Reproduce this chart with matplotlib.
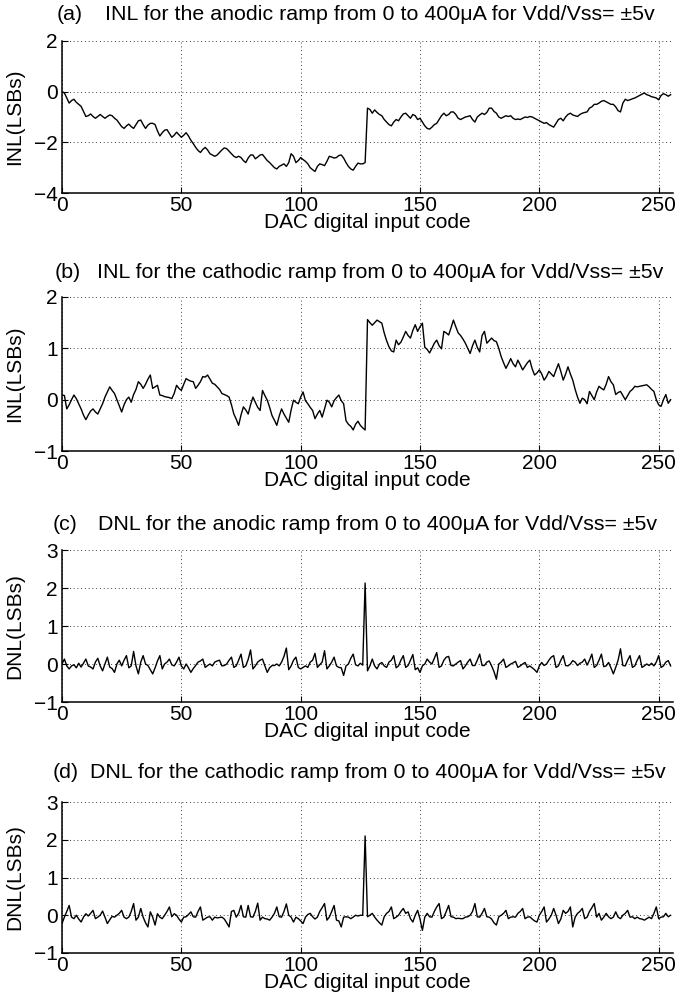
import numpy as np
import matplotlib
matplotlib.use("Agg")
import matplotlib.pyplot as plt

plt.rcParams['font.family'] = ['Liberation Sans', 'DejaVu Sans']

codes = np.arange(256)

# (a) INL, anodic ramp
inl_anodic = [
    0.0, -0.05, -0.25, -0.45, -0.35, -0.3, -0.42, -0.5, -0.58, -0.78, -0.98, -0.95, -0.88, -0.98, -1.05, -0.98,
    -0.9, -0.98, -1.05, -0.98, -0.92, -0.95, -1.05, -1.12, -1.25, -1.38, -1.45, -1.35, -1.28, -1.38, -1.45, -1.3,
    -1.15, -1.12, -1.3, -1.45, -1.32, -1.25, -1.25, -1.3, -1.55, -1.75, -1.62, -1.52, -1.5, -1.65, -1.8, -1.72,
    -1.6, -1.7, -1.8, -1.72, -1.62, -1.75, -1.92, -2.05, -2.2, -2.32, -2.4, -2.28, -2.2, -2.3, -2.45, -2.5,
    -2.55, -2.5, -2.4, -2.3, -2.22, -2.25, -2.35, -2.45, -2.55, -2.6, -2.55, -2.6, -2.72, -2.8, -2.62, -2.5,
    -2.5, -2.65, -2.58, -2.5, -2.48, -2.6, -2.72, -2.8, -2.9, -3.0, -3.05, -2.95, -2.9, -2.85, -2.95, -2.8,
    -2.45, -2.55, -2.8, -2.72, -2.6, -2.68, -2.75, -2.85, -3.0, -3.08, -3.15, -2.95, -2.85, -2.88, -2.92, -2.75,
    -2.55, -2.58, -2.62, -2.6, -2.52, -2.5, -2.62, -2.8, -2.95, -3.05, -3.1, -2.95, -2.82, -2.85, -2.85, -2.8,
    -0.65, -0.7, -0.85, -0.72, -0.82, -0.9, -0.95, -1.1, -1.2, -1.3, -1.35, -1.2, -1.1, -1.15, -1.0, -0.88,
    -0.85, -0.95, -1.05, -0.9, -0.95, -1.1, -1.05, -1.2, -1.35, -1.45, -1.48, -1.4, -1.3, -1.25, -1.1, -0.95,
    -0.85, -0.95, -0.9, -0.8, -0.8, -0.9, -1.05, -1.1, -1.05, -1.0, -0.98, -0.95, -1.1, -1.2, -1.0, -0.92,
    -0.85, -0.9, -0.82, -0.65, -0.65, -0.78, -0.85, -1.0, -1.05, -1.0, -0.95, -0.98, -0.95, -1.05, -1.1, -1.08,
    -1.1, -1.05, -1.0, -1.02, -0.98, -1.0, -1.05, -1.1, -1.15, -1.2, -1.25, -1.22, -1.3, -1.35, -1.4, -1.25,
    -1.1, -1.05, -1.15, -1.0, -0.9, -0.85, -0.92, -0.95, -0.98, -0.9, -0.85, -0.82, -0.8, -0.65, -0.6, -0.5,
    -0.5, -0.45, -0.38, -0.35, -0.4, -0.45, -0.5, -0.5, -0.6, -0.75, -0.8, -0.45, -0.3, -0.35, -0.32, -0.28,
    -0.25, -0.2, -0.15, -0.1, -0.05, -0.12, -0.15, -0.2, -0.22, -0.25, -0.32, -0.15, -0.08, -0.12, -0.18, -0.12,
]

# (b) INL, cathodic ramp
inl_cathodic = [
    0.09, 0.08, -0.18, -0.1, 0.0, 0.09, 0.02, -0.08, -0.18, -0.3, -0.39, -0.3, -0.22, -0.18, -0.24, -0.28,
    -0.18, -0.08, 0.05, 0.15, 0.25, 0.18, 0.12, 0.0, -0.12, -0.24, -0.1, 0.0, 0.05, -0.05, 0.1, 0.2,
    0.35, 0.3, 0.22, 0.3, 0.4, 0.48, 0.22, 0.25, 0.28, 0.09, 0.08, 0.06, 0.05, 0.04, 0.02, 0.12,
    0.28, 0.22, 0.18, 0.3, 0.41, 0.38, 0.36, 0.35, 0.22, 0.28, 0.35, 0.45, 0.44, 0.48, 0.4, 0.32,
    0.3, 0.25, 0.2, 0.12, 0.1, 0.08, 0.05, -0.1, -0.28, -0.38, -0.5, -0.3, -0.14, -0.2, -0.28, -0.1,
    0.05, -0.05, -0.15, -0.21, 0.18, 0.08, -0.01, -0.15, -0.31, -0.4, -0.5, -0.32, -0.18, -0.28, -0.36, -0.44,
    -0.2, -0.01, -0.05, -0.08, 0.05, 0.15, -0.02, -0.08, -0.15, -0.21, -0.37, -0.28, -0.21, -0.34, -0.18, -0.01,
    -0.05, -0.14, -0.02, 0.04, 0.09, -0.02, -0.08, -0.41, -0.48, -0.52, -0.59, -0.48, -0.42, -0.5, -0.55, -0.59,
    1.56, 1.5, 1.45, 1.5, 1.55, 1.52, 1.49, 1.3, 1.15, 1.03, 0.95, 0.93, 1.16, 1.07, 1.12, 1.22,
    1.33, 1.25, 1.2, 1.35, 1.46, 1.33, 1.42, 1.49, 1.02, 0.98, 0.91, 1.0, 1.1, 1.16, 1.05, 0.99,
    1.33, 1.3, 1.26, 1.4, 1.55, 1.42, 1.3, 1.25, 1.18, 1.1, 1.0, 0.9, 1.05, 1.16, 1.02, 0.93,
    1.25, 1.33, 1.1, 1.15, 1.2, 1.15, 1.13, 1.0, 0.84, 0.72, 0.61, 0.7, 0.8, 0.7, 0.64, 0.77,
    0.68, 0.58, 0.65, 0.72, 0.77, 0.6, 0.48, 0.52, 0.58, 0.5, 0.38, 0.45, 0.55, 0.5, 0.45, 0.58,
    0.7, 0.55, 0.38, 0.5, 0.64, 0.5, 0.38, 0.2, 0.05, -0.07, 0.03, 0.0, -0.08, 0.16, 0.08, 0.0,
    0.15, 0.26, 0.22, 0.19, 0.3, 0.45, 0.35, 0.29, 0.1, 0.14, 0.16, 0.08, 0.0, 0.08, 0.16, 0.2,
    0.26, 0.25, 0.26, 0.27, 0.28, 0.29, 0.25, 0.2, 0.16, 0.0, -0.1, -0.13, 0.0, 0.1, -0.07, 0.0,
]

# (c) DNL, anodic ramp
dnl_anodic = [
    0.0, 0.13, -0.05, -0.13, -0.05, -0.02, -0.1, 0.02, -0.08, 0.02, 0.13, -0.05, -0.08, -0.13, 0.05, 0.15,
    -0.05, -0.18, 0.0, 0.18, -0.08, -0.12, -0.22, 0.0, 0.1, -0.05, 0.1, 0.22, -0.1, -0.05, 0.33, -0.05,
    -0.26, 0.05, 0.22, 0.0, -0.04, -0.15, -0.26, -0.1, 0.08, 0.22, -0.13, 0.0, 0.05, 0.13, -0.02, -0.05,
    0.05, 0.18, -0.05, -0.13, 0.0, -0.1, -0.22, -0.12, -0.04, 0.05, 0.08, 0.13, -0.09, -0.04, 0.0, -0.05,
    0.05, 0.08, 0.1, -0.05, -0.04, 0.0, 0.1, 0.18, -0.09, -0.05, 0.1, 0.26, -0.09, -0.05, 0.12, 0.37,
    -0.13, -0.05, 0.05, 0.1, 0.13, -0.05, -0.22, -0.1, -0.04, -0.04, 0.0, -0.05, 0.05, 0.2, 0.42, -0.15,
    -0.05, 0.1, 0.18, -0.09, -0.13, -0.09, -0.05, -0.09, 0.05, 0.1, 0.28, -0.09, -0.02, 0.05, 0.35, -0.13,
    -0.05, 0.05, 0.18, -0.05, -0.09, -0.1, -0.3, -0.05, 0.0, 0.15, 0.26, -0.02, -0.05, 0.02, -0.03, 2.13,
    -0.18, -0.05, 0.13, -0.05, -0.13, 0.0, 0.04, -0.05, -0.09, 0.05, 0.1, 0.22, -0.1, -0.05, 0.1, 0.22,
    -0.09, -0.04, 0.1, 0.25, -0.15, -0.1, -0.22, -0.05, 0.0, 0.13, 0.05, 0.0, 0.15, 0.3, -0.09, -0.05,
    0.1, 0.18, 0.2, -0.04, -0.05, 0.0, 0.05, 0.09, -0.13, -0.05, 0.05, 0.13, -0.04, -0.04, 0.1, 0.26,
    -0.04, -0.04, 0.05, 0.08, -0.05, -0.2, -0.4, 0.0, 0.05, 0.13, -0.09, -0.05, 0.0, 0.03, 0.07, -0.09,
    -0.05, 0.0, 0.04, -0.09, -0.05, -0.1, -0.15, -0.22, -0.05, 0.04, -0.04, 0.0, 0.1, 0.18, 0.22, -0.09,
    -0.05, 0.1, 0.22, -0.04, -0.05, 0.0, 0.09, 0.05, -0.04, 0.02, 0.05, 0.13, -0.03, 0.1, 0.26, -0.09,
    -0.04, 0.1, 0.26, -0.07, -0.05, 0.04, -0.1, -0.26, -0.09, 0.1, 0.4, -0.04, -0.05, 0.1, 0.22, -0.09,
    -0.05, 0.1, 0.22, -0.09, -0.05, 0.0, -0.04, 0.02, -0.05, 0.05, 0.22, -0.09, -0.05, 0.05, 0.09, -0.05,
]

# (d) DNL, cathodic ramp
dnl_cathodic = [
    -0.22, -0.05, 0.1, 0.26, -0.05, -0.09, 0.0, -0.1, -0.18, -0.05, 0.04, -0.02, 0.05, 0.13, -0.09, -0.05,
    0.0, 0.11, -0.05, -0.22, -0.12, -0.03, -0.05, 0.0, 0.05, 0.13, -0.05, -0.09, -0.05, 0.1, 0.31, -0.13,
    -0.05, 0.18, -0.05, -0.2, -0.31, 0.09, -0.05, -0.26, 0.04, -0.05, -0.09, 0.0, 0.1, 0.22, -0.04, 0.04,
    0.0, -0.1, -0.18, -0.05, -0.04, 0.02, 0.09, -0.04, -0.05, 0.1, 0.22, -0.13, -0.09, -0.05, -0.04, -0.13,
    -0.05, -0.07, -0.06, -0.05, -0.1, -0.2, -0.31, 0.1, 0.13, -0.05, 0.05, 0.26, -0.04, -0.05, 0.26, -0.04,
    -0.05, 0.1, 0.32, -0.13, -0.05, -0.09, -0.1, -0.13, -0.05, 0.05, 0.22, -0.04, -0.05, 0.1, 0.3, 0.0,
    -0.05, -0.18, -0.05, -0.09, -0.15, -0.22, -0.05, 0.02, 0.05, -0.04, -0.1, -0.05, 0.1, 0.2, 0.31, -0.13,
    -0.05, 0.1, 0.26, -0.13, -0.15, -0.31, -0.05, -0.04, -0.05, -0.09, -0.05, 0.0, -0.02, 0.0, 0.0, 2.1,
    -0.04, 0.0, 0.05, -0.05, -0.13, -0.2, -0.26, -0.04, 0.05, 0.1, 0.22, -0.09, -0.05, 0.0, 0.1, 0.18,
    0.05, 0.09, -0.09, -0.18, 0.0, 0.13, -0.1, -0.4, -0.05, 0.05, -0.04, -0.05, 0.1, 0.22, 0.31, -0.09,
    -0.05, 0.1, 0.26, -0.04, -0.05, -0.09, -0.08, -0.09, -0.09, -0.05, -0.04, 0.0, 0.1, 0.31, -0.04, -0.05,
    0.05, 0.18, -0.04, -0.05, -0.1, -0.2, -0.26, -0.04, 0.0, 0.05, 0.13, -0.09, -0.05, -0.04, -0.05, 0.05,
    0.1, 0.18, -0.09, -0.05, -0.04, -0.1, -0.15, -0.18, 0.0, 0.1, 0.22, -0.18, -0.1, 0.0, 0.18, 0.0,
    -0.22, -0.1, 0.13, 0.05, 0.1, 0.22, -0.31, -0.05, 0.05, 0.1, 0.18, -0.09, -0.05, 0.1, 0.2, 0.31,
    -0.05, 0.05, -0.13, -0.05, 0.05, -0.04, -0.09, -0.05, 0.09, -0.05, -0.09, 0.0, 0.05, 0.13, -0.05, -0.04,
    -0.09, -0.05, -0.09, -0.1, -0.13, -0.09, -0.05, -0.09, 0.05, 0.22, -0.09, -0.05, -0.04, 0.05, -0.04, 0.0,
]

panels = [
    ("(a)", "INL for the anodic ramp from 0 to 400\u03bcA for Vdd/Vss= \u00b15v", "INL(LSBs)", inl_anodic, (-4, 2), [-4, -2, 0, 2]),
    ("(b)", "INL for the cathodic ramp from 0 to 400\u03bcA for Vdd/Vss= \u00b15v", "INL(LSBs)", inl_cathodic, (-1, 2), [-1, 0, 1, 2]),
    ("(c)", "DNL for the anodic ramp from 0 to 400\u03bcA for Vdd/Vss= \u00b15v", "DNL(LSBs)", dnl_anodic, (-1, 3), [-1, 0, 1, 2, 3]),
    ("(d)", "DNL for the cathodic ramp from 0 to 400\u03bcA for Vdd/Vss= \u00b15v", "DNL(LSBs)", dnl_cathodic, (-1, 3), [-1, 0, 1, 2, 3]),
]

# axes boxes in pixels: (top, bottom), title centre y, tag x, title x
boxes = [(41, 193), (297, 451), (550, 702), (802, 953)]
title_y = [15, 272, 525, 773]
tag_x = [57, 55, 53, 53]
text_x = [105, 97, 98, 90]

W, H = 689, 1000
fig = plt.figure(figsize=(W / 100, H / 100), dpi=100)

left, right = 62, 673
FS = 15
for i, (tag, title, ylab, vals, ylim, yticks) in enumerate(panels):
    top, bot = boxes[i]
    assert len(vals) == 256
    ax = fig.add_axes([left / W, 1 - bot / H, (right - left) / W, (bot - top) / H])
    ax.plot(codes, vals, color="black", lw=1.0)
    ax.set_xlim(0, 256)
    ax.set_ylim(*ylim)
    ax.set_xticks([0, 50, 100, 150, 200, 250])
    ax.set_yticks(yticks)
    ax.grid(True, linestyle=(0, (1, 3.5)), color="black", lw=0.6)
    ax.spines["top"].set_visible(False)
    ax.spines["right"].set_visible(False)
    ax.spines["left"].set_linewidth(1.1)
    ax.spines["bottom"].set_linewidth(1.1)
    ax.tick_params(direction="in", length=4, labelsize=FS)
    ax.tick_params(axis="x", pad=2)
    ax.tick_params(axis="y", pad=3)
    ax.set_xlabel("DAC digital input code", fontsize=FS, labelpad=-1)
    ax.set_ylabel(ylab, fontsize=FS)
    ax.yaxis.set_label_coords((24 - left) / (right - left), 0.5)
    fig.text(tag_x[i] / W, 1 - title_y[i] / H, tag, fontsize=15.4, va="center", ha="left")
    fig.text(text_x[i] / W, 1 - title_y[i] / H, title, fontsize=15.4, va="center", ha="left")

fig.savefig("out.png", dpi=100)
